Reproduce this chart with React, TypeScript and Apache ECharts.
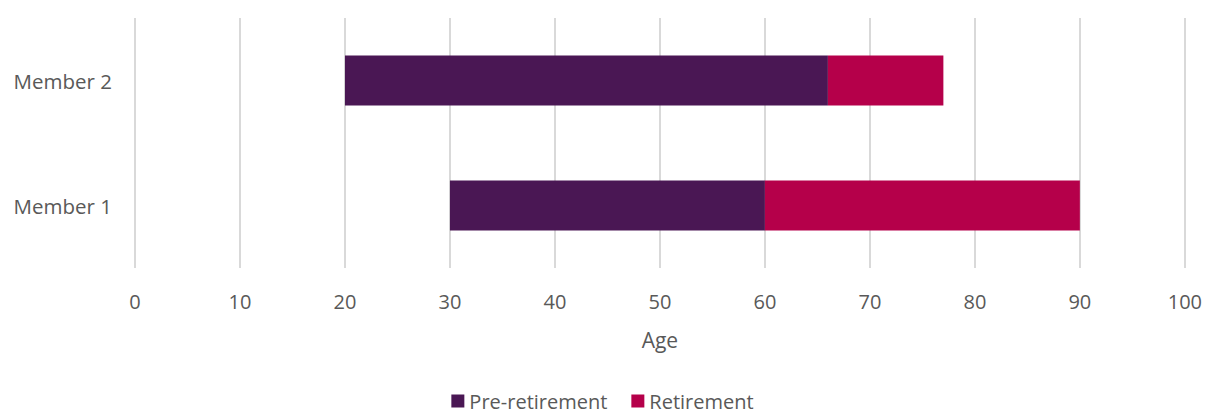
import React, { useEffect, useRef } from "react";
import * as echarts from "echarts";

const categories = ["Member 1", "Member 2"];
const startAge = [30, 20];
const preRetirement = [30, 46];
const retirement = [30, 11];
const xTicks = [0, 10, 20, 30, 40, 50, 60, 70, 80, 90, 100];

const FONT = "'Open Sans', sans-serif";
const TEXT = "#595959";

export default function App() {
  const ref = useRef<HTMLDivElement>(null);
  useEffect(() => {
    if (!ref.current) return;
    const chart = echarts.init(ref.current, undefined, { renderer: "svg" });
    chart.setOption({
      animation: false,
      textStyle: { fontFamily: FONT },
      grid: { left: 135, right: 20, top: 18, height: 250, containLabel: false },
      legend: {
        data: ["Pre-retirement", "Retirement"],
        top: 386,
        left: "center",
        itemWidth: 13,
        itemHeight: 13,
        itemGap: 24,
        icon: "rect",
        textStyle: { color: TEXT, fontSize: 20, fontFamily: FONT },
      },
      xAxis: {
        type: "value",
        min: xTicks[0],
        max: xTicks[xTicks.length - 1],
        interval: 10,
        name: "Age",
        nameLocation: "middle",
        nameGap: 61,
        nameTextStyle: { color: TEXT, fontSize: 21, fontFamily: FONT },
        axisLine: { show: false },
        axisTick: { show: false },
        axisLabel: { color: TEXT, fontSize: 20, margin: 23, fontFamily: FONT },
        splitLine: { lineStyle: { color: "#d9d9d9", width: 2 } },
      },
      yAxis: {
        type: "category",
        data: categories,
        axisLine: { show: false },
        axisTick: { show: false },
        axisLabel: { color: TEXT, fontSize: 20.5, margin: 23, fontFamily: FONT },
      },
      series: [
        {
          name: "Start",
          type: "bar",
          stack: "t",
          data: startAge,
          barWidth: 50,
          itemStyle: { color: "transparent" },
          emphasis: { disabled: true },
          silent: true,
        },
        {
          name: "Pre-retirement",
          type: "bar",
          stack: "t",
          data: preRetirement,
          barWidth: 50,
          itemStyle: { color: "#4a1754" },
        },
        {
          name: "Retirement",
          type: "bar",
          stack: "t",
          data: retirement,
          barWidth: 50,
          itemStyle: { color: "#b5004a" },
        },
      ],
    });
    return () => chart.dispose();
  }, []);
  return (
    <div
      ref={ref}
      style={{ position: "absolute", left: 0, top: 0, width: 1205, height: 416, background: "#fff" }}
    />
  );
}
